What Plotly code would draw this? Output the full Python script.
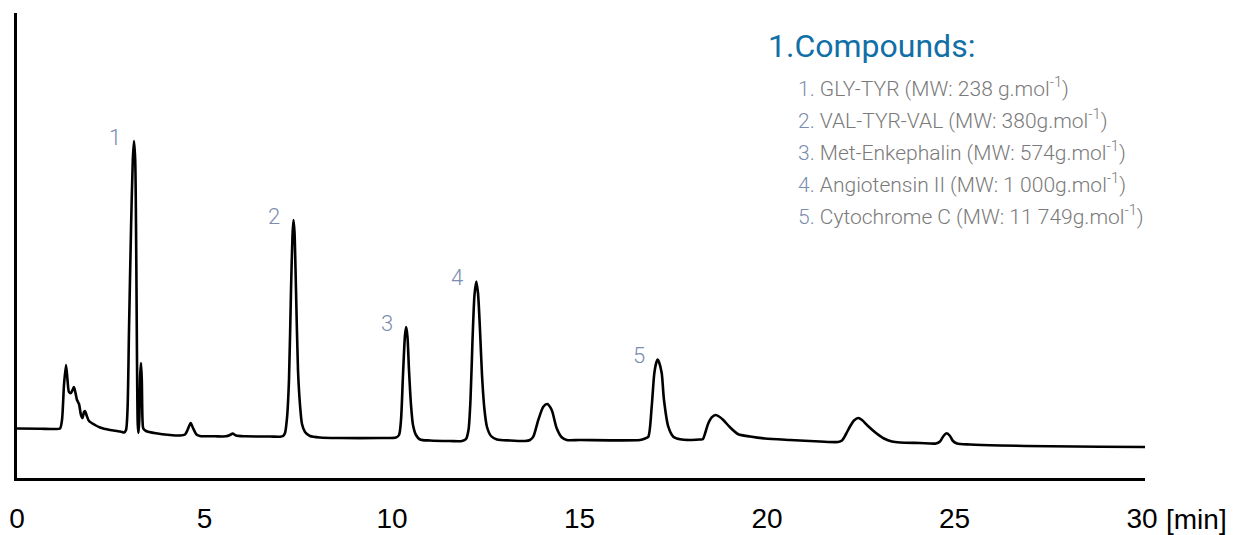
import plotly.graph_objects as go

# Chromatogram trace: retention time (min) and detector signal (a.u.)
time_min = [
    0.000, 0.613, 1.013, 1.147, 1.200, 1.253, 1.307, 1.347, 1.387, 1.440,
    1.493, 1.520, 1.560, 1.600, 1.653, 1.707, 1.747, 1.787, 1.813, 1.853,
    1.920, 2.080, 2.213, 2.480, 2.693, 2.800, 2.853, 2.907, 2.947, 2.987,
    3.040, 3.088, 3.120, 3.152, 3.181, 3.200, 3.221, 3.240, 3.261, 3.285,
    3.307, 3.328, 3.347, 3.368, 3.440, 3.707, 4.080, 4.347, 4.480, 4.547,
    4.632, 4.693, 4.787, 4.880, 5.280, 5.573, 5.680, 5.752, 5.840, 6.080,
    6.747, 7.013, 7.093, 7.147, 7.200, 7.253, 7.307, 7.347, 7.373, 7.400,
    7.440, 7.493, 7.547, 7.600, 7.680, 7.813, 8.080, 8.613, 9.680, 10.107,
    10.187, 10.240, 10.293, 10.347, 10.379, 10.413, 10.453, 10.507, 10.560, 10.640,
    10.747, 11.013, 11.547, 11.867, 11.973, 12.040, 12.093, 12.147, 12.200, 12.248,
    12.293, 12.347, 12.400, 12.467, 12.533, 12.640, 12.800, 13.147, 13.547, 13.680,
    13.768, 13.901, 14.035, 14.141, 14.259, 14.392, 14.525, 14.659, 15.013, 16.613,
    16.747, 16.835, 16.925, 16.995, 17.053, 17.085, 17.120, 17.192, 17.253, 17.368,
    17.501, 17.680, 17.947, 18.213, 18.285, 18.360, 18.435, 18.525, 18.632, 18.720,
    18.835, 19.013, 19.235, 19.547, 19.947, 20.613, 21.413, 21.893, 22.000, 22.107,
    22.213, 22.320, 22.435, 22.533, 22.693, 22.907, 23.120, 23.333, 23.547, 24.080,
    24.507, 24.613, 24.707, 24.792, 24.880, 24.960, 25.067, 25.413, 26.213, 27.547,
    28.880, 30.080,
]
signal = [
    49.5, 49.3, 49.0, 49.5, 58.0, 93.0, 113.0, 98.0, 86.0, 85.0,
    89.0, 91.0, 85.0, 78.0, 74.0, 63.0, 60.0, 66.0, 67.0, 63.0,
    57.0, 53.0, 50.5, 48.0, 46.8, 46.0, 45.5, 48.0, 68.0, 148.0,
    248.0, 318.0, 337.0, 318.0, 218.0, 118.0, 53.0, 45.0, 58.0, 103.0,
    115.0, 98.0, 58.0, 49.5, 47.0, 44.7, 43.0, 42.5, 43.5, 48.0,
    55.0, 50.0, 43.5, 42.0, 41.7, 41.7, 43.0, 44.5, 42.5, 41.7,
    41.5, 41.3, 42.0, 45.0, 60.0, 98.0, 188.0, 243.0, 258.0, 246.0,
    188.0, 108.0, 73.0, 54.0, 46.0, 42.0, 40.5, 40.0, 40.0, 40.5,
    43.0, 58.0, 103.0, 143.0, 151.0, 141.0, 108.0, 73.0, 53.0, 43.0,
    38.5, 37.5, 37.0, 37.0, 39.0, 48.0, 78.0, 138.0, 183.0, 196.5,
    185.0, 148.0, 103.0, 68.0, 51.0, 42.0, 38.5, 37.5, 37.0, 38.0,
    41.3, 58.0, 71.3, 74.0, 68.0, 49.7, 40.7, 38.0, 38.0, 38.0,
    39.5, 41.3, 71.3, 104.7, 116.0, 118.5, 116.0, 105.0, 78.0, 51.3,
    41.3, 38.7, 38.0, 38.5, 38.7, 46.0, 54.7, 60.7, 63.0, 61.5,
    58.0, 50.7, 43.7, 41.5, 39.5, 38.0, 36.5, 36.0, 37.5, 44.0,
    51.5, 57.5, 60.0, 58.0, 52.0, 45.0, 39.5, 36.5, 35.5, 35.0,
    34.5, 36.5, 42.0, 44.7, 42.0, 37.0, 34.5, 33.5, 32.5, 31.7,
    31.2, 31.0,
]

# Numbered peaks and their retention times (min)
peak_ids = ["1", "2", "3", "4", "5"]
peak_times = [3.120, 7.373, 10.379, 12.248, 17.085]

# Compound list shown in the key
legend_title = "1.Compounds:"
compounds = [
    "GLY-TYR (MW: 238 g.mol<sup>-1</sup>)",
    "VAL-TYR-VAL (MW: 380g.mol<sup>-1</sup>)",
    "Met-Enkephalin (MW: 574g.mol<sup>-1</sup>)",
    "Angiotensin II (MW: 1 000g.mol<sup>-1</sup>)",
    "Cytochrome C (MW: 11 749g.mol<sup>-1</sup>)",
]

x_ticks = [0, 5, 10, 15, 20, 25, 30]
x_unit = "[min]"

LABEL_BLUE = "#7b8db0"
TEXT_GREY = "#7a7a7a"
TITLE_BLUE = "#0f6fa6"

fig = go.Figure()
fig.add_trace(go.Scatter(
    x=time_min, y=signal, mode="lines",
    line=dict(color="black", width=2.6, shape="spline", smoothing=0.7),
    hoverinfo="skip", showlegend=False,
))

annotations = []

# Peak numbers beside each apex
for pid, pt in zip(peak_ids, peak_times):
    idx = min(range(len(time_min)), key=lambda i: abs(time_min[i] - pt))
    annotations.append(dict(
        x=time_min[idx], y=signal[idx], xref="x", yref="y",
        text=pid, showarrow=False, xanchor="right", yanchor="middle",
        xshift=-11, yshift=4,
        font=dict(family="Roboto", weight=300, size=22, color=LABEL_BLUE),
    ))

# Key: title and numbered compound lines
annotations.append(dict(
    x=0.664, y=0.93, xref="paper", yref="paper", text=legend_title,
    showarrow=False, xanchor="left", yanchor="middle",
    font=dict(family="Roboto", size=32, color=TITLE_BLUE),
))
for i, name in enumerate(compounds):
    annotations.append(dict(
        x=0.6905, y=0.8409 - i * 0.0688, xref="paper", yref="paper",
        text=f"<span style='color:{LABEL_BLUE}'>{i + 1}.</span> {name}",
        showarrow=False, xanchor="left", yanchor="middle",
        font=dict(family="Roboto", weight=300, size=21, color=TEXT_GREY),
    ))

# Unit after the last tick label
annotations.append(dict(
    x=x_ticks[-1], y=0, xref="x", yref="paper", text=x_unit,
    showarrow=False, xanchor="left", yanchor="top", xshift=22, yshift=-24,
    font=dict(family="Liberation Sans", size=28, color="black"),
))

fig.update_layout(
    width=1239, height=535,
    margin=dict(l=17, r=94, t=13, b=57, autoexpand=False),
    paper_bgcolor="white", plot_bgcolor="white",
    annotations=annotations,
    xaxis=dict(
        range=[0, 30.08], showgrid=False, zeroline=False, automargin=False,
        showline=True, linecolor="black", linewidth=2.6,
        tickvals=x_ticks, ticktext=[str(v) for v in x_ticks],
        ticks="", ticklabelstandoff=14,
        tickfont=dict(family="Liberation Sans", size=28, color="black"),
    ),
    yaxis=dict(
        range=[0, 465], showgrid=False, zeroline=False, automargin=False,
        showline=True, linecolor="black", linewidth=2.6,
        showticklabels=False, ticks="",
    ),
)

fig.write_html("out.html")
